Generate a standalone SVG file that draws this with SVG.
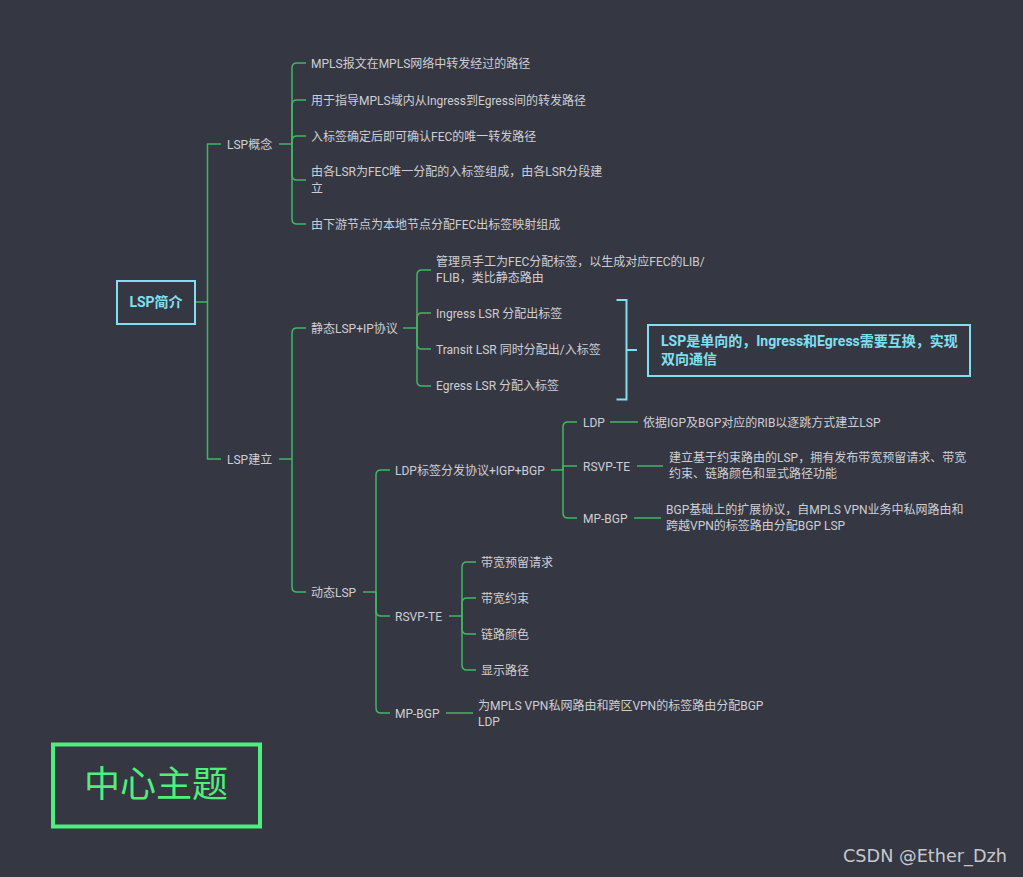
<svg xmlns="http://www.w3.org/2000/svg" width="1023" height="877" viewBox="0 0 1023 877">
<style>
.t{font-family:Roboto,"Noto Sans CJK SC",sans-serif;font-size:12px;fill:#cfcfd3}
.c{fill:none;stroke:#43b663;stroke-width:1.5}
.cy{fill:none;stroke:#80e0f2;stroke-width:2}
.ct{font-family:Roboto,"Noto Sans CJK SC",sans-serif;font-size:14px;font-weight:bold;fill:#80e0f2}
</style>
<rect width="1023" height="877" fill="#353743"/>
<g id="connectors">
<path class="c" d="M195,302 H207.5 M221,144 H207.5 V459 H221"/>
<path class="c" d="M279,144 H292"/>
<path class="c" d="M292,144 V68 Q292,63 297,63 H306"/>
<path class="c" d="M292,144 V105 Q292,100 297,100 H306"/>
<path class="c" d="M292,144 V141 Q292,136 297,136 H306"/>
<path class="c" d="M292,144 V175 Q292,180 297,180 H306"/>
<path class="c" d="M292,144 V219 Q292,224 297,224 H306"/>
<path class="c" d="M279,459 H292"/>
<path class="c" d="M292,459 V333 Q292,328 297,328 H306"/>
<path class="c" d="M292,459 V587 Q292,592 297,592 H306"/>
<path class="c" d="M403,328 H417"/>
<path class="c" d="M417,328 V275 Q417,270 422,270 H431"/>
<path class="c" d="M417,328 V318 Q417,313 422,313 H431"/>
<path class="c" d="M417,328 V344 Q417,349 422,349 H431"/>
<path class="c" d="M417,328 V381 Q417,386 422,386 H431"/>
<path class="c" d="M363,592 H376"/>
<path class="c" d="M376,592 V475 Q376,470 381,470 H390"/>
<path class="c" d="M376,592 V611 Q376,616 381,616 H390"/>
<path class="c" d="M376,592 V708 Q376,713 381,713 H390"/>
<path class="c" d="M551,470 H563"/>
<path class="c" d="M563,470 V427 Q563,422 568,422 H577"/>
<path class="c" d="M563,470 V466 H577"/>
<path class="c" d="M563,470 V513 Q563,518 568,518 H577"/>
<path class="c" d="M610,422 H638"/>
<path class="c" d="M637,466 H663"/>
<path class="c" d="M634,518 H661"/>
<path class="c" d="M449,616 H462"/>
<path class="c" d="M462,616 V567 Q462,562 467,562 H476"/>
<path class="c" d="M462,616 V603 Q462,598 467,598 H476"/>
<path class="c" d="M462,616 V629 Q462,634 467,634 H476"/>
<path class="c" d="M462,616 V665 Q462,670 467,670 H476"/>
<path class="c" d="M446,713 H473"/>
<path class="cy" d="M616.5,300 H626.5 V399.5 H616.5 M626.5,350 H637"/>
</g>
<g id="root">
<rect x="117" y="281" width="78" height="43" class="cy"/>
<text x="156" y="307" text-anchor="middle" class="ct">LSP简介</text>
</g>
<g id="n-concept"><text x="227" y="148.5" class="t">LSP概念</text></g>
<g id="n-c1"><text x="311" y="67.5" class="t">MPLS报文在MPLS网络中转发经过的路径</text></g>
<g id="n-c2"><text x="311" y="104.5" class="t">用于指导MPLS域内从Ingress到Egress间的转发路径</text></g>
<g id="n-c3"><text x="311" y="140.5" class="t">入标签确定后即可确认FEC的唯一转发路径</text></g>
<g id="n-c4"><text x="311" y="176" class="t">由各LSR为FEC唯一分配的入标签组成，由各LSR分段建</text><text x="311" y="192.5" class="t">立</text></g>
<g id="n-c5"><text x="311" y="228.5" class="t">由下游节点为本地节点分配FEC出标签映射组成</text></g>
<g id="n-build"><text x="227" y="463.5" class="t">LSP建立</text></g>
<g id="n-static"><text x="311" y="332.5" class="t">静态LSP+IP协议</text></g>
<g id="n-s1"><text x="436" y="266" class="t">管理员手工为FEC分配标签，以生成对应FEC的LIB/</text><text x="436" y="282" class="t">FLIB，类比静态路由</text></g>
<g id="n-s2"><text x="436" y="317.5" class="t">Ingress LSR 分配出标签</text></g>
<g id="n-s3"><text x="436" y="353.5" class="t">Transit LSR 同时分配出/入标签</text></g>
<g id="n-s4"><text x="436" y="390" class="t">Egress LSR 分配入标签</text></g>
<g id="n-summary">
<rect x="648" y="325" width="322" height="51" class="cy"/>
<text x="661" y="346" class="ct">LSP是单向的，Ingress和Egress需要互换，实现</text>
<text x="661" y="364" class="ct">双向通信</text>
</g>
<g id="n-dynamic"><text x="311" y="596.5" class="t">动态LSP</text></g>
<g id="n-ldpgrp"><text x="395" y="474.5" class="t">LDP标签分发协议+IGP+BGP</text></g>
<g id="n-ldp"><text x="583" y="426.5" class="t">LDP</text></g>
<g id="n-ldp-d"><text x="643" y="426.5" class="t">依据IGP及BGP对应的RIB以逐跳方式建立LSP</text></g>
<g id="n-rsvp1"><text x="583" y="470.5" class="t">RSVP-TE</text></g>
<g id="n-rsvp1-d"><text x="669" y="461.5" class="t">建立基于约束路由的LSP，拥有发布带宽预留请求、带宽</text><text x="669" y="477.5" class="t">约束、链路颜色和显式路径功能</text></g>
<g id="n-mpbgp1"><text x="583" y="522.5" class="t">MP-BGP</text></g>
<g id="n-mpbgp1-d"><text x="666" y="513.5" class="t">BGP基础上的扩展协议，自MPLS VPN业务中私网路由和</text><text x="666" y="529.5" class="t">跨越VPN的标签路由分配BGP LSP</text></g>
<g id="n-rsvp2"><text x="395" y="620.5" class="t">RSVP-TE</text></g>
<g id="n-r1"><text x="481" y="566.5" class="t">带宽预留请求</text></g>
<g id="n-r2"><text x="481" y="602.5" class="t">带宽约束</text></g>
<g id="n-r3"><text x="481" y="638.5" class="t">链路颜色</text></g>
<g id="n-r4"><text x="481" y="674.5" class="t">显示路径</text></g>
<g id="n-mpbgp2"><text x="395" y="717.5" class="t">MP-BGP</text></g>
<g id="n-mpbgp2-d"><text x="478" y="709.5" class="t">为MPLS VPN私网路由和跨区VPN的标签路由分配BGP</text><text x="478" y="725.5" class="t">LDP</text></g>
<g id="center">
<rect x="53" y="744.5" width="207" height="82" fill="none" stroke="#4cf07a" stroke-width="4"/>
<text x="156" y="797" text-anchor="middle" font-family="'Noto Sans CJK SC',sans-serif" font-size="36" fill="#4cf07a">中心主题</text>
</g>
<text x="843" y="862" font-family="'DejaVu Sans',sans-serif" font-size="18" fill="#c8c8cc" textLength="164" lengthAdjust="spacingAndGlyphs">CSDN @Ether_Dzh</text>
</svg>
